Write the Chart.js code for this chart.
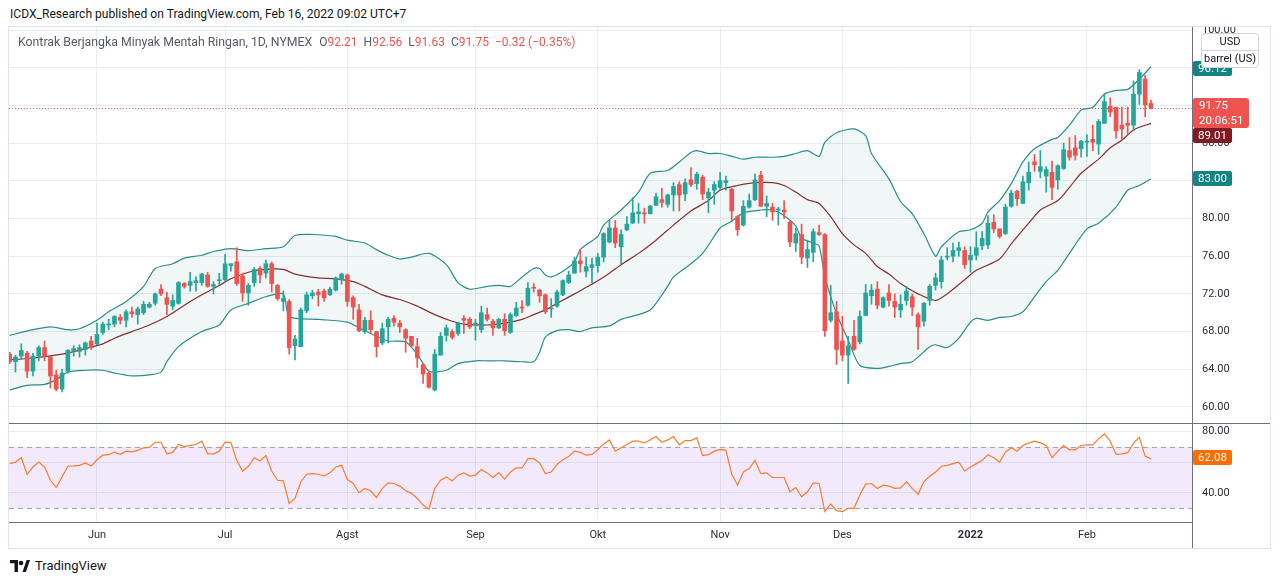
<!DOCTYPE html>
<html>
<head>
<meta charset="utf-8">
<script src="https://cdn.jsdelivr.net/npm/chart.js@4.4.1/dist/chart.umd.min.js"></script>
<style>
html,body{margin:0;padding:0;background:#fff;width:1280px;height:584px;overflow:hidden;font-family:Roboto,"Liberation Sans",sans-serif;}
.abs{position:absolute;}
#title{left:10px;top:7px;font-size:12.1px;color:#131722;white-space:nowrap;}
#frame{left:8px;top:26px;width:1263px;height:523px;border:1px solid #e0e3eb;box-sizing:border-box;}
#legend{left:18px;top:35px;font-size:12px;color:#555a66;white-space:nowrap;}
#legend .n{font-size:12.3px;}
#legend .r{color:#ef5350;}
#legend .g{margin-left:7px;}
#legend .g2{margin-left:6px;}
#sep1{left:9px;top:423px;width:1261px;height:1px;background:#6f727d;}
#axv{left:1192px;top:521px;width:1px;height:27px;background:#6f727d;}
.badge{position:absolute;color:#fff;font-size:11.5px;line-height:15px;padding:0 5px;border-radius:2px;white-space:nowrap;}
#usd{left:1201px;top:33px;width:58px;height:35px;background:#fff;border:1px solid #d1d4dc;border-radius:4px;font-size:11px;color:#131722;text-align:center;box-sizing:border-box;}
#usd div{height:16px;line-height:16px;}
#usd div+div{border-top:1px solid #d1d4dc;}
#footer{left:10px;top:558px;font-size:13px;color:#131722;display:flex;align-items:center;gap:5px;}
</style>
</head>
<body>
<div id="title" class="abs">ICDX_Research published on TradingView.com, Feb 16, 2022 09:02 UTC+7</div>
<div id="frame" class="abs"></div>
<canvas id="main" class="abs" width="1261" height="396" style="left:9px;top:27px;width:1261px;height:396px"></canvas>
<div id="sep1" class="abs"></div>
<canvas id="rsi" class="abs" width="1261" height="124" style="left:9px;top:424px;width:1261px;height:124px"></canvas>
<div id="axv" class="abs"></div>
<div id="legend" class="abs"><span class="n">Kontrak Berjangka Minyak Mentah Ringan, 1D, NYMEX</span><span class="g">O</span><span class="r">92.21</span><span class="g2">H</span><span class="r">92.56</span><span class="g2">L</span><span class="r">91.63</span><span class="g2">C</span><span class="r">91.75</span><span class="g2 r">−0.32 (−0.35%)</span></div>

<div class="badge" style="left:1193px;top:61px;background:#138484;">96.12</div>
<div id="usd" class="abs"><div>USD</div><div>barrel (US)</div></div>
<div class="badge" style="left:1193px;top:98px;background:#ef5350;padding:0 6px;border-radius:2px 3px 3px 2px;line-height:15px;">91.75<br>20:06:51</div>
<div class="badge" style="left:1193px;top:128px;background:#801922;">89.01</div>
<div class="badge" style="left:1193px;top:171px;background:#138484;">83.00</div>
<div class="badge" style="left:1193px;top:450px;background:#ff6d00;">62.08</div>

<div id="footer" class="abs">
<svg width="20" height="12" viewBox="0 0 20 12"><path d="M0 0h8v12H4.5V3.3H0z" fill="#131722"/><circle cx="11" cy="3" r="2.3" fill="#131722"/><path d="M12.5 12 16.6 0H20l-4.1 12z" fill="#131722"/></svg>
<span>TradingView</span>
</div>

<script>
// ---- data ----
const monthIdx    = [15, 37, 58, 80, 101, 122, 143, 165, 185];
const monthLabels = ['Jun','Jul','Agst','Sep','Okt','Nov','Des','2022','Feb'];
const priceTicks  = [60,64,68,72,76,80,84,88,92,96,100];
const rsiTicks    = [40,60,80];
const rsiUpper = 70, rsiLower = 30;

const opens = [
65.6,64.8,65.4,65.7,63.8,65.4,66.3,65.3,63.4,61.9,
63.8,66.0,65.9,66.1,67.0,66.7,67.9,68.7,68.8,69.5,
69.2,70.1,69.8,70.0,70.6,71.0,72.5,71.6,70.7,71.0,
73.1,72.9,73.2,73.2,74.0,72.8,73.4,73.5,75.0,75.4,
73.9,72.1,73.2,74.7,74.2,75.2,72.9,71.2,71.2,66.5,
66.4,70.2,71.8,72.2,72.3,71.9,72.4,73.5,74.0,71.6,
70.3,68.0,69.2,68.0,66.8,68.5,69.4,68.9,68.2,67.5,
66.4,64.5,63.6,61.8,65.5,67.6,68.0,67.8,69.4,69.3,
68.8,68.2,69.8,69.1,68.4,69.3,67.9,69.7,70.6,70.8,
72.7,72.4,71.9,70.4,70.7,71.9,73.2,74.2,75.5,74.4,
74.8,75.0,75.9,77.5,79.0,77.0,78.8,79.5,80.5,80.6,
80.5,81.4,82.0,81.5,82.5,83.6,82.6,84.1,83.7,84.4,
82.2,83.0,83.3,83.8,83.1,80.2,79.3,81.2,82.0,84.6,
81.3,81.2,80.9,80.9,79.6,77.4,78.3,75.8,76.4,78.5,
78.3,69.2,70.1,67.0,65.5,67.5,66.9,69.7,71.8,72.5,
70.6,72.1,71.2,70.3,71.3,71.7,69.8,69.1,71.3,72.9,
73.3,75.9,76.0,76.6,76.6,75.6,76.1,77.1,77.2,79.6,
78.9,78.4,81.3,82.9,81.6,83.8,86.0,85.0,84.5,84.9,
84.1,85.3,87.2,87.5,87.4,88.1,88.4,87.9,90.1,91.9,
91.8,89.9,90.1,89.9,93.2,94.8,92.21];
const highs = [
65.8,65.5,66.7,65.9,65.7,66.5,67.0,65.3,63.9,64.0,
66.1,66.5,66.6,66.9,67.5,68.9,69.0,69.3,69.7,69.8,
70.3,70.6,70.6,71.2,71.1,72.1,73.0,72.2,71.9,73.3,
73.2,74.3,73.8,74.2,74.3,73.3,74.2,76.2,75.2,76.9,
74.2,73.1,74.8,74.9,75.6,75.4,73.0,72.3,71.4,67.6,
70.5,72.2,72.4,72.5,72.5,72.7,73.8,74.2,74.1,71.8,
70.9,69.5,70.2,68.0,68.9,69.5,69.7,69.2,68.3,67.5,
67.3,64.6,63.8,66.1,67.9,68.7,68.2,69.0,69.7,69.5,
69.3,70.7,70.5,69.3,69.4,69.9,70.0,71.1,71.3,73.2,
73.1,72.5,72.0,71.5,72.4,73.5,74.4,75.9,76.7,75.9,
75.8,76.3,78.5,79.8,79.8,78.8,80.2,82.2,81.6,81.1,
81.4,82.7,83.2,82.6,83.8,83.9,84.2,85.4,84.9,84.6,
83.2,83.9,84.9,84.5,83.2,80.3,81.9,82.6,84.7,85.0,
82.4,81.6,81.2,81.9,79.7,79.0,79.4,77.7,78.9,79.3,
78.4,72.9,71.2,69.6,67.5,69.2,70.2,73.0,73.0,73.3,
71.7,73.0,72.0,71.9,72.8,72.0,70.0,71.1,73.0,74.2,
76.0,76.9,77.4,77.5,77.0,77.0,78.6,78.6,80.3,80.4,
78.9,81.5,83.0,83.0,84.5,86.0,86.8,87.2,85.5,86.1,
85.7,88.0,88.6,88.8,88.3,88.9,89.9,90.5,93.2,92.8,
91.8,91.8,91.8,94.6,95.8,95.2,92.56];
const lows = [
64.6,63.7,65.1,63.1,63.3,64.9,64.9,62.0,61.7,61.6,
63.6,65.4,65.3,65.5,66.1,66.6,67.7,68.2,68.5,68.8,
68.5,69.5,68.8,69.8,70.5,70.8,71.8,69.8,70.3,70.9,
72.6,72.3,72.3,72.9,72.7,72.0,73.0,73.4,74.4,72.9,
71.2,70.8,72.8,73.2,73.7,72.2,71.3,70.2,65.6,65.0,
66.4,70.0,71.5,70.7,71.2,71.8,72.3,73.0,70.7,69.3,
68.0,67.8,67.9,65.3,66.6,66.8,68.6,67.9,65.8,66.4,
64.2,62.5,62.0,61.7,65.5,67.0,67.2,67.6,67.8,68.3,
67.1,67.9,69.1,67.6,68.3,67.6,67.8,69.6,70.0,70.7,
72.2,71.1,69.9,69.5,70.6,71.8,73.1,74.2,74.3,73.8,
73.2,74.3,75.4,77.4,76.9,75.2,78.7,79.5,79.5,79.5,
80.5,81.4,81.2,81.2,80.8,80.8,81.9,83.4,83.1,82.0,
80.6,81.5,83.0,83.0,79.8,78.2,79.2,81.1,81.9,81.3,
80.2,79.8,79.3,80.0,77.0,76.5,75.2,74.8,75.4,78.2,
67.5,69.0,64.5,64.9,62.5,66.0,66.7,69.7,70.9,70.4,
70.5,70.7,69.5,69.5,70.8,69.7,66.1,68.6,70.8,72.4,
72.6,75.6,75.4,76.0,74.7,74.3,75.6,76.7,76.8,78.5,
77.9,78.3,81.2,81.4,81.6,83.0,85.0,84.3,82.8,82.0,
83.1,85.2,86.2,86.2,86.5,86.6,87.2,86.8,90.1,90.8,
88.5,88.4,89.0,89.3,92.1,90.8,91.63];
const closes = [
64.8,65.3,66.0,63.8,65.4,66.3,65.4,63.3,61.9,63.6,
66.0,66.2,66.3,66.8,66.3,67.7,68.8,68.8,69.6,69.2,
70.1,69.9,70.4,70.9,70.9,72.0,72.0,70.9,71.3,73.2,
72.8,73.3,73.4,74.1,72.8,73.0,73.5,75.2,75.2,73.1,
72.1,72.9,74.6,74.0,75.2,73.1,71.5,71.5,66.3,67.2,
70.3,71.9,72.1,71.9,71.6,72.5,73.7,74.1,71.2,70.6,
68.1,69.2,68.2,66.4,68.3,69.3,69.0,68.5,67.3,66.5,
65.2,63.5,62.1,65.6,67.5,68.4,67.4,68.9,69.2,68.5,
68.9,70.0,69.3,68.4,69.3,68.1,69.8,70.5,70.5,72.6,
72.6,71.8,70.1,70.5,72.2,73.4,74.0,75.5,75.2,74.9,
75.1,75.9,78.4,79.0,77.4,78.3,79.4,80.6,80.7,80.5,
81.3,82.3,81.7,82.5,83.4,82.5,83.8,83.6,84.7,82.6,
82.8,83.6,84.0,84.0,80.8,78.8,81.3,81.9,84.1,81.3,
81.6,80.7,81.0,80.7,77.5,78.4,75.9,76.7,78.6,78.3,
68.1,70.0,66.1,65.5,66.5,66.1,69.6,72.1,72.4,70.8,
71.6,71.3,70.6,70.9,72.3,70.6,68.5,71.0,72.8,73.7,
75.6,76.0,76.6,76.9,75.1,76.1,76.9,77.9,79.5,78.9,
78.1,81.2,82.7,82.1,83.9,84.9,85.7,85.5,85.2,83.3,
85.6,87.3,86.5,86.7,88.2,88.2,88.1,90.3,92.4,91.3,
89.3,89.5,89.9,93.2,95.5,92.07,91.75];

const upIdx = [0,4,7,10,12,15,17,20,23,25,28,30,33,35,38,41,44,47,49,52,56,58,61,63,65,67,69,72,75,77,79,82,84,86,88,90,91,92,93,95,97,98,101,102,105,108,110,113,115,117,118,120,122,124,126,128,131,133,135,137,139,140,142,145,147,148,151,153,155,157,159,160,163,165,167,168,170,172,174,176,179,180,182,184,186,188,190,192,194,196];
const bbUpper = [67.6,68.2,68.5,68.2,68.3,69.2,70.1,71.2,72.8,74.7,75.2,75.8,76.1,76.5,76.8,76.6,76.8,77.0,78.2,78.3,78.1,77.7,77.4,76.7,76.1,75.7,75.9,76.3,75.1,73.2,72.5,72.8,72.9,72.8,73.8,74.7,74.7,74.0,73.8,74.4,75.4,76.7,78.1,79.3,80.9,82.8,84.8,85.1,86.0,87.0,87.2,86.9,86.9,86.6,86.3,86.5,86.5,86.6,86.9,87.2,86.6,88.1,89.1,89.5,88.8,86.9,84.2,81.8,80.5,78.4,76.0,77.0,78.6,78.8,79.5,80.7,81.9,83.7,86.0,87.4,88.4,88.6,89.9,91.5,91.8,93.2,93.6,93.7,94.8,96.1];
const midIdx = [0,4,9,13,16,18,21,24,27,30,33,36,38,41,44,47,49,53,56,59,61,64,67,70,73,76,78,82,85,88,90,92,94,97,99,101,103,105,108,111,114,117,120,122,125,128,131,133,135,137,139,141,143,145,147,149,151,153,156,159,161,164,166,170,172,175,177,180,182,184,187,189,191,193,196];
const bbMid = [65.0,65.2,65.6,66.2,66.7,67.3,68.0,68.7,69.6,70.8,71.9,72.9,73.6,74.3,74.6,74.6,74.1,73.7,73.6,73.3,72.8,71.9,71.4,70.7,69.8,69.1,68.8,68.7,68.9,69.3,69.8,70.3,71.0,72.0,72.7,73.4,74.2,75.1,76.3,77.7,79.3,80.8,81.9,83.0,83.5,83.8,83.8,83.5,82.8,82.0,81.6,80.2,78.4,77.2,76.3,74.9,74.1,73.1,72.0,71.3,72.0,73.5,74.5,75.7,77.3,79.5,80.9,81.9,83.3,84.8,86.3,87.5,88.3,89.4,90.1];
const lowIdx = [0,3,6,8,10,13,16,18,21,24,26,27,29,33,36,38,41,44,47,48,53,58,60,63,65,68,70,72,75,77,80,82,85,88,90,91,92,94,96,98,100,103,105,108,110,111,113,114,117,119,121,122,124,126,129,131,133,135,136,138,139,140,142,144,146,149,151,153,155,158,159,161,163,165,166,168,170,172,174,176,178,180,182,185,187,190,192,194,196];
const bbLower = [61.8,62.3,62.4,62.9,63.7,63.9,63.9,63.6,63.3,63.4,63.7,64.8,66.4,68.0,68.7,70.3,71.0,71.7,72.0,69.6,69.3,69.0,68.4,67.5,67.0,66.9,65.6,63.8,63.9,64.6,64.9,64.9,64.9,64.8,64.8,65.8,67.4,68.1,68.2,68.0,68.4,68.6,69.3,69.8,70.3,71.0,72.8,73.8,75.2,76.3,78.1,79.0,79.7,80.6,80.9,80.9,80.3,79.2,77.9,77.4,77.1,73.8,69.9,67.1,64.4,64.1,64.3,64.6,64.8,66.4,66.6,66.3,67.3,69.0,69.4,69.2,69.5,69.6,70.1,71.7,73.3,74.5,76.3,78.9,79.5,81.2,83.0,83.5,84.2];

const rsi = [
59.0,60.0,62.8,52.1,56.8,60.0,56.8,48.2,43.5,50.4,
57.3,57.5,57.9,59.4,57.5,61.5,64.5,64.8,66.5,65.0,
67.1,66.7,67.6,69.3,69.5,72.9,72.9,65.4,66.3,71.4,
70.1,70.8,71.4,73.6,65.4,65.4,67.1,72.9,72.7,61.1,
54.2,57.3,62.8,60.7,64.3,54.2,48.2,47.8,33.2,36.4,
47.1,52.1,52.5,52.1,51.0,53.0,56.8,57.9,48.7,46.1,
40.1,42.9,41.4,36.9,42.9,46.5,46.1,44.4,41.4,39.7,
36.4,32.1,29.4,42.9,48.2,50.4,47.8,51.5,53.0,50.9,
51.5,55.2,53.0,50.0,53.0,48.9,53.6,56.2,56.2,62.2,
62.2,59.4,52.5,53.6,58.5,61.5,63.7,67.1,66.3,64.5,
65.0,68.0,71.8,74.4,67.1,69.3,71.4,73.6,73.6,72.5,
74.4,76.6,72.9,74.4,76.6,71.2,74.0,74.0,75.7,64.3,
64.8,67.1,68.2,67.6,52.1,45.0,53.6,55.8,61.1,52.5,
53.0,50.0,50.0,50.0,40.7,43.5,37.5,40.7,46.5,46.1,
27.9,32.8,28.5,27.9,30.0,30.0,38.6,45.7,46.1,42.9,
45.0,44.4,42.9,43.3,47.2,42.9,39.2,47.2,50.8,53.6,
57.3,57.9,59.0,60.0,54.2,56.8,59.0,61.1,64.8,62.8,
60.0,66.5,69.3,67.1,70.8,72.3,73.6,72.5,70.8,62.8,
67.1,70.8,68.0,68.0,70.8,71.2,71.2,75.1,78.3,73.6,
65.0,65.4,66.1,72.3,76.1,63.7,62.1];

// ---- styling ----
const F = 'Roboto, "Liberation Sans", sans-serif';
const UP = '#26a69a', DN = '#ef5350';
const GRID = '#e8edf3', AXIS = '#6f727d', TXT = '#2a2e39';
const BAND = '#2b8d89', MID = '#8a2f2f';
const X_MIN = -0.11, X_MAX = 203.04;
const barColors = closes.map((c, i) => c >= opens[i] ? UP : DN);
const pts = (idx, vals) => idx.map((v, k) => ({x: v, y: vals[k]}));

const bandFill = {
  id: 'bandFill',
  beforeDatasetsDraw(chart) {
    const {ctx, chartArea: a, scales: {x, y}} = chart;
    ctx.save();
    ctx.beginPath();
    ctx.rect(a.left, a.top, a.right - a.left, a.bottom - a.top);
    ctx.clip();
    ctx.beginPath();
    upIdx.forEach((v, k) => {
      const px = x.getPixelForValue(v), py = y.getPixelForValue(bbUpper[k]);
      k ? ctx.lineTo(px, py) : ctx.moveTo(px, py);
    });
    for (let k = lowIdx.length - 1; k >= 0; k--) {
      ctx.lineTo(x.getPixelForValue(lowIdx[k]), y.getPixelForValue(bbLower[k]));
    }
    ctx.closePath();
    ctx.fillStyle = 'rgba(43,141,137,0.065)';
    ctx.fill();
    const yc = Math.round(y.getPixelForValue(closes[closes.length - 1])) + 0.5;
    ctx.beginPath();
    ctx.setLineDash([1, 2]);
    ctx.strokeStyle = '#ef5350';
    ctx.lineWidth = 1;
    ctx.moveTo(a.left, yc);
    ctx.lineTo(a.right, yc);
    ctx.stroke();
    ctx.restore();
  }
};

const monthTicks = s => { s.ticks = monthIdx.map(v => ({value: v})); };

new Chart(document.getElementById('main'), {
  type: 'bar',
  data: {
    datasets: [
      {type: 'bar', data: opens.map((o, i) => ({x: i, y: [o, closes[i]]})), backgroundColor: barColors,
       barThickness: 4, grouped: false, minBarLength: 1, borderWidth: 0, order: 0},
      {type: 'bar', data: lows.map((l, i) => ({x: i, y: [l, highs[i]]})), backgroundColor: barColors,
       barThickness: 1, grouped: false, borderWidth: 0, order: 1},
      {type: 'line', data: pts(upIdx, bbUpper), borderColor: BAND, borderWidth: 1.2, pointRadius: 0, tension: 0.25, order: 2},
      {type: 'line', data: pts(lowIdx, bbLower), borderColor: BAND, borderWidth: 1.2, pointRadius: 0, tension: 0.25, order: 2},
      {type: 'line', data: pts(midIdx, bbMid), borderColor: MID, borderWidth: 1.2, pointRadius: 0, tension: 0.25, order: 2}
    ]
  },
  options: {
    responsive: false, animation: false, events: [],
    layout: {padding: 0},
    plugins: {legend: {display: false}, tooltip: {enabled: false}},
    scales: {
      x: {type: 'linear', min: X_MIN, max: X_MAX, offset: false,
          afterBuildTicks: monthTicks,
          ticks: {display: false},
          grid: {color: GRID, drawTicks: false, offset: false},
          border: {display: false},
          afterFit: s => { s.height = 0; s.paddingLeft = 0; s.paddingRight = 0; }},
      y: {type: 'linear', position: 'right', min: 58.30, max: 100.32, beginAtZero: false,
          afterBuildTicks: s => { s.ticks = priceTicks.map(v => ({value: v})); },
          ticks: {callback: v => v.toFixed(2), padding: 10, color: TXT, font: {family: F, size: 11}},
          grid: {color: GRID, drawTicks: false},
          border: {display: true, color: AXIS},
          afterFit: s => { s.width = 78; s.paddingTop = 0; s.paddingBottom = 0; }}
    }
  },
  plugins: [bandFill]
});

const rsiBand = {
  id: 'rsiBand',
  beforeDatasetsDraw(chart) {
    const {ctx, chartArea: a, scales: {y}} = chart;
    const y70 = y.getPixelForValue(rsiUpper), y30 = y.getPixelForValue(rsiLower);
    ctx.save();
    ctx.fillStyle = 'rgba(149,56,230,0.11)';
    ctx.fillRect(a.left, y70, a.right - a.left, y30 - y70);
    ctx.setLineDash([5, 4]);
    ctx.strokeStyle = '#a7a3b3';
    ctx.lineWidth = 1;
    [y70, y30].forEach(yy => {
      ctx.beginPath();
      ctx.moveTo(a.left, Math.round(yy) + 0.5);
      ctx.lineTo(a.right, Math.round(yy) + 0.5);
      ctx.stroke();
    });
    ctx.restore();
  }
};

new Chart(document.getElementById('rsi'), {
  type: 'line',
  data: {
    datasets: [{data: rsi.map((v, i) => ({x: i, y: v})), borderColor: '#fb7d2a', borderWidth: 1.2, pointRadius: 0, tension: 0}]
  },
  options: {
    responsive: false, animation: false, events: [],
    layout: {padding: 0},
    plugins: {legend: {display: false}, tooltip: {enabled: false}},
    scales: {
      x: {type: 'linear', min: X_MIN, max: X_MAX, offset: false,
          afterBuildTicks: monthTicks,
          ticks: {callback: (v, i) => monthLabels[i], color: TXT, padding: 7, maxRotation: 0, autoSkip: false,
                  font: c => ({family: F, size: 11, weight: monthLabels[c.index] === '2022' ? 'bold' : 'normal'})},
          grid: {color: GRID, drawTicks: false},
          border: {display: true, color: AXIS},
          afterFit: s => { s.height = 26; s.paddingLeft = 0; s.paddingRight = 0; }},
      y: {type: 'linear', position: 'right', min: 21.1, max: 84.74,
          afterBuildTicks: s => { s.ticks = rsiTicks.map(v => ({value: v})); },
          ticks: {callback: v => v.toFixed(2), padding: 10, color: TXT, font: {family: F, size: 11}},
          grid: {color: GRID, drawTicks: false},
          border: {display: true, color: AXIS},
          afterFit: s => { s.width = 78; s.paddingTop = 0; s.paddingBottom = 0; }}
    }
  },
  plugins: [rsiBand]
});
</script>
</body>
</html>
